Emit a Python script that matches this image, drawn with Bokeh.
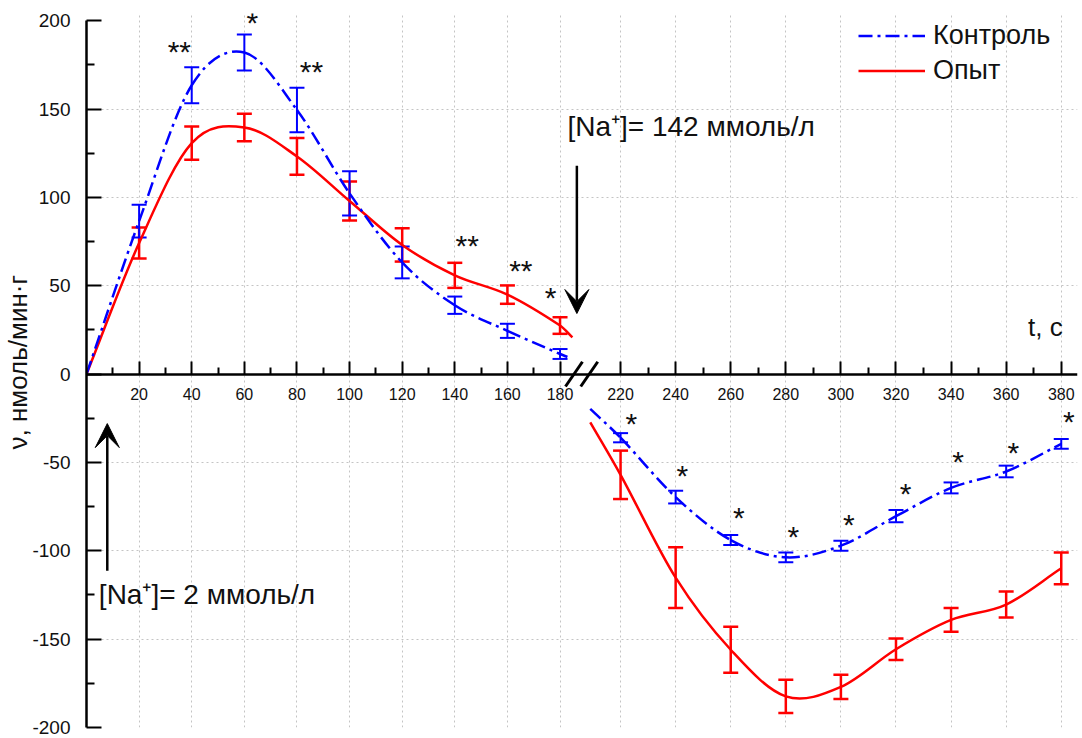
import math
from bokeh.plotting import figure
from bokeh.models import (Range1d, LinearAxis, FixedTicker, Grid, ColumnDataSource, Whisker,
                          TeeHead, Arrow, VeeHead, Label, Legend, LegendItem, Title)
from bokeh.core.properties import value
from bokeh.embed import file_html
from bokeh.resources import INLINE

# ---------------- data ----------------
t_left = [20, 40, 60, 80, 100, 120, 140, 160, 180]
ctrl_left = [86.6, 163.5, 182.0, 149.5, 102.3, 63.2, 39.0, 24.5, 11.4]
ctrl_left_err = [9.3, 10.2, 10.2, 12.6, 12.5, 9.0, 4.9, 4.0, 2.8]
exp_left = [74.2, 130.7, 139.6, 123.2, 98.0, 73.1, 55.9, 45.0, 27.5]
exp_left_err = [8.8, 9.4, 7.8, 10.4, 11.0, 9.4, 7.1, 5.2, 4.7]

t_right = [220, 240, 260, 280, 300, 320, 340, 360, 380]
ctrl_right = [-36.0, -69.6, -93.9, -103.7, -97.1, -80.4, -64.4, -55.1, -39.5]
ctrl_right_err = [2.6, 3.6, 2.8, 2.8, 2.8, 3.5, 3.1, 3.3, 2.8]
exp_right = [-57.0, -115.2, -156.0, -182.4, -177.0, -155.7, -139.1, -130.4, -109.9]
exp_right_err = [13.7, 17.2, 13.0, 9.4, 6.9, 6.1, 6.7, 7.4, 9.0]

# where the fitted curves begin / end
origin_t, origin_v = 0, 0
ctrl_left_end_t, ctrl_left_end_v = 182.8, 9.7
exp_left_end_t, exp_left_end_v = 184.7, 20.8
ctrl_right_start_t, ctrl_right_start_v = 209, -19.7
exp_right_start_t, exp_right_start_v = 209, -27.3

# significance marks
sig_left_t = [35.3, 63.0, 85.5, 144.7, 165.1, 176.4]
sig_left_v = [182.6, 198.9, 171.3, 72.8, 58.6, 43.1]
sig_left_txt = ["**", "*", "**", "**", "**", "*"]
sig_right_t = [223.9, 242.4, 262.9, 282.7, 302.9, 323.5, 342.5, 362.6, 382.8]
sig_right_v = [-28.0, -57.6, -81.4, -91.8, -85.2, -67.3, -49.4, -44.1, -26.7]
sig_right_txt = ["*"] * 9

x_ticks_left = [20, 40, 60, 80, 100, 120, 140, 160, 180]
x_minor_left = [10, 30, 50, 70, 90, 110, 130, 150, 170]
x_ticks_right = [220, 240, 260, 280, 300, 320, 340, 360, 380]
x_minor_right = [230, 250, 270, 290, 310, 330, 350, 370]
y_ticks = [-200, -150, -100, -50, 0, 50, 100, 150, 200]
y_minor = [-175, -125, -75, -25, 25, 75, 125, 175]
y_grid = [-150, -100, -50, 50, 100, 150]

BLUE = "#0000ff"
RED = "#ff0000"
FONT = "Liberation Sans"
DASHDOT = "14 5 3 5"

# ---------------- figure ----------------
p = figure(width=1082, height=738, output_backend="svg", toolbar_location=None,
           x_range=Range1d(0, 376.7), y_range=Range1d(-200, 204.1),
           x_axis_type=None, y_axis_type=None,
           min_border_left=86, min_border_right=5, min_border_top=13, min_border_bottom=11)
p.outline_line_color = None
p.background_fill_color = "white"
p.border_fill_color = "white"
p.extra_x_ranges = {"right": Range1d(26.1, 385.9)}

grid_kw = dict(grid_line_color="#c4c4c4", grid_line_dash="2 3", grid_line_width=1)
p.add_layout(Grid(dimension=0, ticker=FixedTicker(ticks=x_ticks_left), **grid_kw))
p.add_layout(Grid(dimension=0, ticker=FixedTicker(ticks=x_ticks_right), x_range_name="right", **grid_kw))
p.add_layout(Grid(dimension=1, ticker=FixedTicker(ticks=y_grid), **grid_kw))

axis_kw = dict(axis_line_width=2.5, axis_line_color="black",
               major_tick_line_width=2, minor_tick_line_width=2,
               major_tick_line_color="black", minor_tick_line_color="black",
               major_tick_out=0, minor_tick_out=0,
               major_label_text_font=FONT, major_label_text_color="#111111")

yaxis = LinearAxis(ticker=FixedTicker(ticks=y_ticks, minor_ticks=y_minor), bounds=(-200, 200),
                   major_tick_in=15, minor_tick_in=8, major_label_standoff=16,
                   major_label_text_font_size="19px",
                   major_label_overrides={t: str(t) for t in y_ticks}, **axis_kw)
p.add_layout(yaxis, "left")

# y title as a side title, so it can be moved along the axis
ytitle = Title(text="ν, нмоль/мин·г", align="left", offset=278, standoff=-6,
               text_font=FONT, text_font_size="26px", text_font_style="normal",
               text_color="#111111")
p.add_layout(ytitle, "left")

xaxis_l = LinearAxis(ticker=FixedTicker(ticks=x_ticks_left, minor_ticks=x_minor_left),
                     fixed_location=0, major_tick_in=13, minor_tick_in=7, major_label_standoff=14,
                     major_label_text_font_size="16px", **axis_kw)
p.add_layout(xaxis_l, "below")
xaxis_r = LinearAxis(x_range_name="right",
                     ticker=FixedTicker(ticks=x_ticks_right, minor_ticks=x_minor_right),
                     fixed_location=0, major_tick_in=13, minor_tick_in=7, major_label_standoff=14,
                     major_label_text_font_size="16px", **axis_kw)
xaxis_r.axis_line_color = None
p.add_layout(xaxis_r, "below")


def bezier_parts(ts, vs):
    n = len(ts)
    m = []
    for i in range(n):
        if i == 0:
            m.append((vs[1] - vs[0]) / (ts[1] - ts[0]))
        elif i == n - 1:
            m.append((vs[-1] - vs[-2]) / (ts[-1] - ts[-2]))
        else:
            m.append((vs[i + 1] - vs[i - 1]) / (ts[i + 1] - ts[i - 1]))
    d = dict(x0=[], y0=[], x1=[], y1=[], cx0=[], cy0=[], cx1=[], cy1=[])
    for i in range(n - 1):
        h = ts[i + 1] - ts[i]
        d["x0"].append(ts[i]); d["y0"].append(vs[i])
        d["x1"].append(ts[i + 1]); d["y1"].append(vs[i + 1])
        d["cx0"].append(ts[i] + h / 3); d["cy0"].append(vs[i] + m[i] * h / 3)
        d["cx1"].append(ts[i + 1] - h / 3); d["cy1"].append(vs[i + 1] - m[i + 1] * h / 3)
    return ColumnDataSource(d)


def draw_curve(ts, vs, color, dash, rng="default"):
    src = bezier_parts(ts, vs)
    return p.bezier(x0="x0", y0="y0", x1="x1", y1="y1", cx0="cx0", cy0="cy0", cx1="cx1", cy1="cy1",
                    source=src, line_color=color, line_width=2.5, line_dash=dash, x_range_name=rng)


r_exp = draw_curve([origin_t] + t_left + [exp_left_end_t], [origin_v] + exp_left + [exp_left_end_v], RED, "solid")
r_ctrl = draw_curve([origin_t] + t_left + [ctrl_left_end_t], [origin_v] + ctrl_left + [ctrl_left_end_v], BLUE, DASHDOT)
draw_curve([exp_right_start_t] + t_right, [exp_right_start_v] + exp_right, RED, "solid", "right")
draw_curve([ctrl_right_start_t] + t_right, [ctrl_right_start_v] + ctrl_right, BLUE, DASHDOT, "right")


def whiskers(ts, vs, es, color, lw, rng="default"):
    src = ColumnDataSource(dict(t=ts, lo=[v - e for v, e in zip(vs, es)], hi=[v + e for v, e in zip(vs, es)]))
    w = Whisker(source=src, base="t", lower="lo", upper="hi", line_color=color, line_width=lw,
                upper_head=TeeHead(size=15, line_color=color, line_width=lw),
                lower_head=TeeHead(size=15, line_color=color, line_width=lw),
                x_range_name=rng)
    p.add_layout(w)


whiskers(t_left, exp_left, exp_left_err, RED, 2.5)
whiskers(t_left, ctrl_left, ctrl_left_err, BLUE, 2)
whiskers(t_right, exp_right, exp_right_err, RED, 2.5, "right")
whiskers(t_right, ctrl_right, ctrl_right_err, BLUE, 2, "right")

txt_kw = dict(text_font=value(FONT), text_color="#111111", text_align="center", text_baseline="alphabetic")
p.text(x=sig_left_t, y=sig_left_v, text=sig_left_txt, text_font_size="30px", **txt_kw)
p.text(x=sig_right_t, y=sig_right_v, text=sig_right_txt, text_font_size="30px", x_range_name="right", **txt_kw)

# axis break marks
break_t = [185.3, 191.1]
p.scatter(x=break_t, y=[0, 0], marker="dash", size=30, angle=0.97, line_color="black", line_width=3)

# arrows
p.add_layout(Arrow(x_start=186.4, y_start=118, x_end=186.4, y_end=34.3, line_width=2.5, line_color="black",
                   end=VeeHead(size=24, fill_color="black", line_color="black", line_width=1)))
p.add_layout(Arrow(x_start=7.9, y_start=-111.3, x_end=7.9, y_end=-28.0, line_width=2.5, line_color="black",
                   end=VeeHead(size=24, fill_color="black", line_color="black", line_width=1)))

ann_kw = dict(text_font=FONT, text_font_size="28px", text_color="#111111", text_baseline="alphabetic")
p.add_layout(Label(x=182.8, y=140.2, text="[Na\u207a]= 142 ммоль/л", text_align="left", **ann_kw))
p.add_layout(Label(x=4.7, y=-125.0, text="[Na\u207a]= 2 ммоль/л", text_align="left", **ann_kw))
p.add_layout(Label(x=380.5, y=26.5, x_range_name="right", text="t, c", text_align="right",
                   text_font=FONT, text_font_size="26px", text_color="#111111", text_baseline="alphabetic"))

# legend
legend = Legend(items=[LegendItem(label="Контроль", renderers=[r_ctrl]),
                       LegendItem(label="Опыт", renderers=[r_exp])],
                location=(772, 639.5), padding=0, spacing=0, margin=0,
                glyph_width=67, glyph_height=35, label_height=35, label_standoff=8,
                label_text_font=FONT, label_text_font_size="27px", label_text_color="#111111",
                border_line_color=None, background_fill_alpha=0)
p.add_layout(legend)

open("out.html", "w").write(file_html(p, INLINE))
